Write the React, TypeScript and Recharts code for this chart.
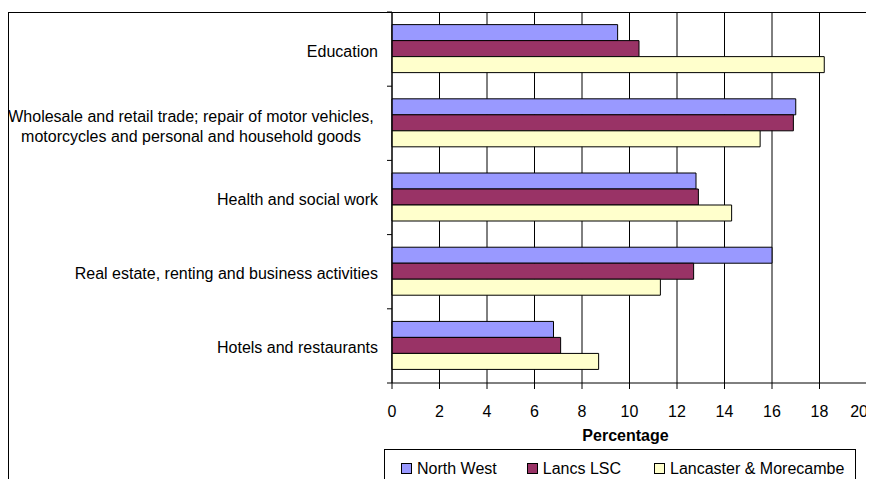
import React from "react";
import { BarChart, Bar, XAxis, YAxis, CartesianGrid, Legend } from "recharts";

const categories = [
  "Education",
  "Wholesale and retail trade; repair of motor vehicles, motorcycles and personal and household goods",
  "Health and social work",
  "Real estate, renting and business activities",
  "Hotels and restaurants",
];
const categoryLabelLines = [
  ["Education"],
  ["Wholesale and retail trade; repair of motor vehicles,", "motorcycles and personal and household goods"],
  ["Health and social work"],
  ["Real estate, renting and business activities"],
  ["Hotels and restaurants"],
];
const northWest = [9.5, 17.0, 12.8, 16.0, 6.8];
const lancsLSC = [10.4, 16.9, 12.9, 12.7, 7.1];
const lancasterMorecambe = [18.2, 15.5, 14.3, 11.3, 8.7];
const xTicks = [0, 2, 4, 6, 8, 10, 12, 14, 16, 18, 20];

const seriesNames = ["North West", "Lancs LSC", "Lancaster & Morecambe"];
const seriesColors = ["#9999FF", "#993366", "#FFFFCC"];

const data = categories.map((c, i) => ({
  name: c,
  nw: northWest[i],
  lsc: lancsLSC[i],
  lm: lancasterMorecambe[i],
}));

const FONT = "'Liberation Sans', Arial, sans-serif";

const YTick = (props: any) => {
  const { x, y, payload, index } = props;
  const lines = categoryLabelLines[index] || [String(payload.value)];
  const half = payload && payload.offset ? payload.offset : 37.1;
  const isLast = index === categories.length - 1;
  return (
    <g>
      <line x1={x - 5} x2={x} y1={y - half} y2={y - half} stroke="#000" />
      {isLast && <line x1={x - 5} x2={x} y1={y + half} y2={y + half} stroke="#000" />}
      {lines.length === 1 ? (
        <text x={x - 14} y={y} dy={7.5} textAnchor="end" fontSize={16} fontFamily={FONT} fill="#000">
          {lines[0]}
        </text>
      ) : (
        <text x={x - 201} y={y} textAnchor="middle" fontSize={16} fontFamily={FONT} fill="#000">
          {lines.map((l: string, k: number) => (
            <tspan key={k} x={x - 201} y={y - 1 + k * 20}>
              {l}
            </tspan>
          ))}
        </text>
      )}
    </g>
  );
};

const XTick = (props: any) => {
  const { x, y, payload, index } = props;
  const last = index === xTicks.length - 1;
  return (
    <text
      x={last ? x + 1 : x}
      y={y}
      dy="0.71em"
      textAnchor={last ? "end" : "middle"}
      fontSize={16}
      fontFamily={FONT}
      fill="#000"
    >
      {payload.value}
    </text>
  );
};

const LegendContent = () => (
  <div
    style={{
      boxSizing: "border-box",
      width: 472,
      height: 30,
      borderTop: "1px solid #000",
      borderLeft: "1px solid #000",
      borderRight: "1px solid #000",
      display: "flex",
      alignItems: "center",
      paddingLeft: 16,
      paddingTop: 8,
      fontFamily: FONT,
      fontSize: 16,
      color: "#000",
      lineHeight: "20px",
      whiteSpace: "nowrap",
    }}
  >
    {seriesNames.map((n, i) => (
      <div
        key={n}
        style={{ display: "flex", alignItems: "center", flexShrink: 0, marginRight: i === 0 ? 30 : 33 }}
      >
        <span
          style={{
            display: "inline-block",
            flexShrink: 0,
            width: 9,
            height: 9,
            border: "1px solid #000",
            background: seriesColors[i],
            marginRight: 5,
          }}
        />
        <span>{n}</span>
      </div>
    ))}
  </div>
);

export default function App() {
  return (
    <div style={{ position: "relative", width: 866, height: 471, overflow: "hidden", fontFamily: FONT }}>
      <BarChart
        width={866}
        height={471}
        data={data}
        layout="vertical"
        margin={{ top: 4, right: 7, bottom: 36, left: 0 }}
        barCategoryGap="17%"
        barGap={0}
      >
        <CartesianGrid horizontal={false} vertical={true} stroke="#000" strokeOpacity={1} />
        <XAxis
          type="number"
          domain={[0, 20]}
          ticks={xTicks}
          interval={0}
          height={60}
          tickSize={6}
          tickMargin={17}
          stroke="#000"
          tick={<XTick />}
          label={({ viewBox }: any) => (
            <text
              x={viewBox.x + viewBox.width / 2 - 4}
              y={viewBox.y + 58}
              textAnchor="middle"
              fontSize={16}
              fontWeight="bold"
              fontFamily={FONT}
              fill="#000"
            >
              Percentage
            </text>
          )}
        />
        <YAxis
          type="category"
          dataKey="name"
          width={384}
          tickLine={false}
          tickSize={0}
          tickMargin={0}
          stroke="#000"
          interval={0}
          tick={<YTick />}
        />
        <Legend
          layout="horizontal"
          verticalAlign="middle"
          align="center"
          wrapperStyle={{ left: 376, top: 441, width: 472 }}
          content={<LegendContent />}
        />
        <Bar dataKey="nw" name={seriesNames[0]} fill={seriesColors[0]} stroke="#000" strokeWidth={1} isAnimationActive={false} />
        <Bar dataKey="lsc" name={seriesNames[1]} fill={seriesColors[1]} stroke="#000" strokeWidth={1} isAnimationActive={false} />
        <Bar dataKey="lm" name={seriesNames[2]} fill={seriesColors[2]} stroke="#000" strokeWidth={1} isAnimationActive={false} />
      </BarChart>
      <div
        style={{
          position: "absolute",
          left: 0,
          top: 4,
          right: 0,
          bottom: 0,
          borderLeft: "1px solid #000",
          borderTop: "1px solid #000",
          pointerEvents: "none",
        }}
      />
    </div>
  );
}
